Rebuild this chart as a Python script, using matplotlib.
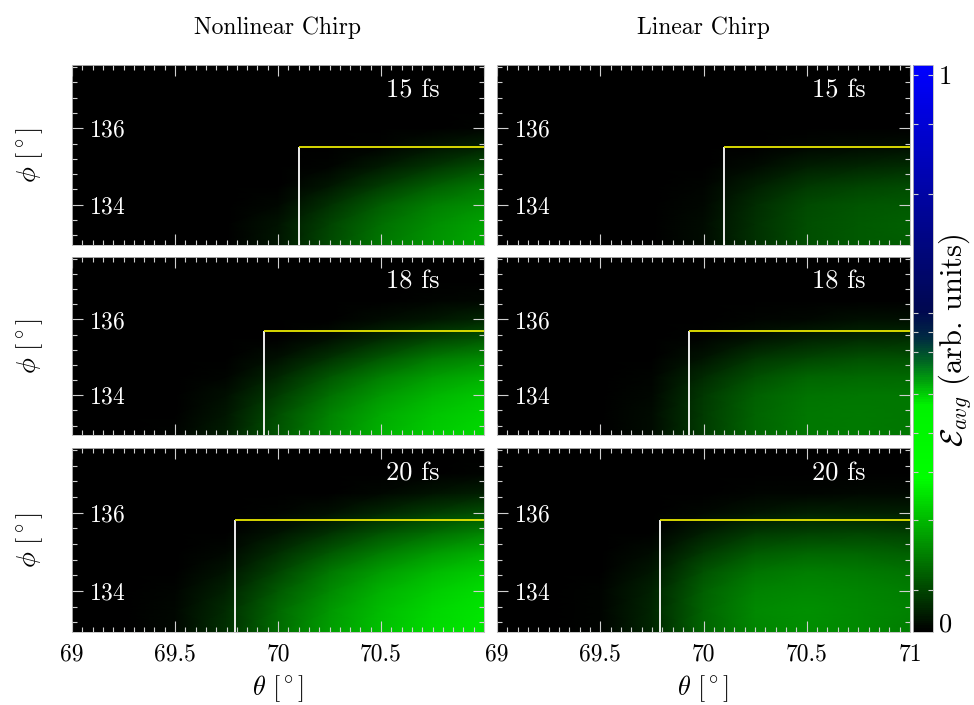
import numpy as np
import matplotlib
matplotlib.use("Agg")
import matplotlib.pyplot as plt
from matplotlib.colors import LinearSegmentedColormap, Normalize
from matplotlib.cm import ScalarMappable
from matplotlib.ticker import AutoMinorLocator, FixedLocator, MultipleLocator

plt.rcParams["font.family"] = "cmr10"
plt.rcParams["mathtext.fontset"] = "cm"
plt.rcParams["axes.formatter.use_mathtext"] = True

# grid of the scan (degrees)
theta = [69.0, 69.25, 69.5, 69.75, 70.0, 70.25, 70.5, 70.75, 71.0]
phi = [132.95, 133.5, 134.0, 134.5, 135.0, 135.5, 136.0, 136.5, 137.0, 137.65]

# average field, in units of 0.01 (rows: phi ascending, columns: theta ascending)
nl_15fs = [
    [0, 0, 0, 0.2, 2.7, 7.9, 12.7, 15.9, 18.0],
    [0, 0, 0, 0.1, 2.1, 7.2, 11.8, 15.1, 17.3],
    [0, 0, 0, 0, 1.1, 5.3, 9.8, 13.4, 15.6],
    [0, 0, 0, 0, 0.3, 2.7, 6.6, 10.1, 12.7],
    [0, 0, 0, 0, 0, 0.7, 3.0, 5.8, 8.4],
    [0, 0, 0, 0, 0, 0.1, 0.7, 2.1, 3.7],
    [0, 0, 0, 0, 0, 0, 0, 0.3, 0.7],
    [0, 0, 0, 0, 0, 0, 0, 0, 0],
    [0, 0, 0, 0, 0, 0, 0, 0, 0],
    [0, 0, 0, 0, 0, 0, 0, 0, 0],
]
nl_18fs = [
    [0, 0, 0.4, 3.2, 9.0, 14.8, 19.0, 21.7, 23.2],
    [0, 0, 0.3, 2.7, 8.3, 13.9, 18.2, 21.0, 22.5],
    [0, 0, 0.1, 1.6, 6.3, 11.8, 16.4, 19.4, 21.1],
    [0, 0, 0, 0.6, 4.1, 9.0, 13.5, 16.7, 18.5],
    [0, 0, 0, 0.1, 1.6, 5.3, 9.3, 12.5, 14.6],
    [0, 0, 0, 0, 0.3, 1.9, 4.5, 7.2, 9.3],
    [0, 0, 0, 0, 0, 0.3, 1.3, 2.7, 4.1],
    [0, 0, 0, 0, 0, 0, 0.1, 0.4, 0.8],
    [0, 0, 0, 0, 0, 0, 0, 0, 0],
    [0, 0, 0, 0, 0, 0, 0, 0, 0],
]
nl_20fs = [
    [0, 0, 1.1, 5.3, 11.7, 16.9, 20.7, 23.2, 24.9],
    [0, 0, 0.8, 4.8, 11.1, 16.4, 20.1, 22.8, 24.3],
    [0, 0, 0.6, 3.7, 9.6, 14.8, 18.8, 21.7, 23.5],
    [0, 0, 0.2, 2.3, 7.4, 12.5, 16.7, 19.9, 21.7],
    [0, 0, 0, 1.1, 4.8, 9.3, 13.2, 16.4, 18.5],
    [0, 0, 0, 0.3, 2.1, 5.3, 8.7, 11.7, 13.8],
    [0, 0, 0, 0, 0.6, 1.9, 4.1, 6.3, 8.3],
    [0, 0, 0, 0, 0, 0.3, 1.1, 2.1, 3.2],
    [0, 0, 0, 0, 0, 0, 0.1, 0.3, 0.6],
    [0, 0, 0, 0, 0, 0, 0, 0, 0],
]
lin_15fs = [
    [0, 0, 0, 0, 1.3, 5.3, 8.3, 9.6, 10.0],
    [0, 0, 0, 0, 1.3, 5.3, 8.4, 9.7, 10.3],
    [0, 0, 0, 0, 1.1, 4.8, 7.9, 9.1, 9.7],
    [0, 0, 0, 0, 0.6, 3.4, 6.2, 7.4, 8.2],
    [0, 0, 0, 0, 0.1, 1.5, 3.2, 4.2, 4.9],
    [0, 0, 0, 0, 0, 0.2, 0.8, 1.4, 1.7],
    [0, 0, 0, 0, 0, 0, 0.1, 0.2, 0.3],
    [0, 0, 0, 0, 0, 0, 0, 0, 0],
    [0, 0, 0, 0, 0, 0, 0, 0, 0],
    [0, 0, 0, 0, 0, 0, 0, 0, 0],
]
lin_18fs = [
    [0, 0, 0, 1.3, 6.3, 10.6, 12.5, 12.9, 12.5],
    [0, 0, 0, 1.3, 6.6, 10.9, 12.8, 13.2, 12.8],
    [0, 0, 0, 1.1, 5.9, 10.3, 12.2, 12.8, 12.5],
    [0, 0, 0, 0.6, 4.5, 8.4, 10.6, 11.2, 11.0],
    [0, 0, 0, 0.1, 2.3, 5.5, 7.4, 8.3, 8.3],
    [0, 0, 0, 0, 0.6, 2.3, 3.8, 4.6, 4.9],
    [0, 0, 0, 0, 0, 0.6, 1.1, 1.7, 1.9],
    [0, 0, 0, 0, 0, 0, 0.1, 0.2, 0.3],
    [0, 0, 0, 0, 0, 0, 0, 0, 0],
    [0, 0, 0, 0, 0, 0, 0, 0, 0],
]
lin_20fs = [
    [0, 0, 0.6, 4.1, 10.6, 14.3, 15.0, 14.6, 13.5],
    [0, 0, 0.6, 4.1, 10.8, 14.5, 15.3, 14.8, 13.8],
    [0, 0, 0.6, 3.6, 10.3, 13.9, 14.8, 14.4, 13.4],
    [0, 0, 0.3, 2.7, 8.7, 12.4, 13.4, 13.1, 12.2],
    [0, 0, 0.1, 1.3, 6.0, 9.6, 10.7, 10.6, 10.0],
    [0, 0, 0, 0.3, 3.2, 5.9, 7.0, 7.1, 6.8],
    [0, 0, 0, 0, 1.0, 2.3, 3.2, 3.4, 3.2],
    [0, 0, 0, 0, 0.1, 0.4, 0.7, 0.8, 0.8],
    [0, 0, 0, 0, 0, 0, 0, 0, 0],
    [0, 0, 0, 0, 0, 0, 0, 0, 0],
]

durations = ["15 fs", "18 fs", "20 fs"]
column_titles = ["Nonlinear Chirp", "Linear Chirp"]
panels = [[nl_15fs, lin_15fs], [nl_18fs, lin_18fs], [nl_20fs, lin_20fs]]

theta_ticks = [69, 69.5, 70, 70.5, 71]
theta_ticklabels = [["69", "69.5", "70", "70.5", ""], ["69", "69.5", "70", "70.5", "71"]]

# window corner of each scan (theta_c, phi_c)
corner_theta = [70.10, 69.93, 69.79]
corner_phi = [135.52, 135.70, 135.80]

cbar_minor = [0.074, 0.198, 0.282, 0.351, 0.420, 0.494, 0.529, 0.563, 0.772, 0.896, 0.982]

cmap = LinearSegmentedColormap.from_list(
    "green_blue",
    [
        (0.0, (0.0, 0.0, 0.0)),
        (0.27, (0.0, 1.0, 0.0)),
        (0.40, (0.0, 0.95, 0.0)),
        (0.44, (0.0, 0.65, 0.04)),
        (0.48, (0.0, 0.38, 0.14)),
        (0.52, (0.0, 0.16, 0.26)),
        (0.565, (0.0, 0.03, 0.31)),
        (1.0, (0.0, 0.0, 1.0)),
    ],
)
norm = Normalize(0, 1)

W_FIG, H_FIG = 974, 705
fig = plt.figure(figsize=(W_FIG / 100, H_FIG / 100), dpi=100)


def rect(x0, y0, x1, y1):
    return [x0 / W_FIG, 1 - y1 / H_FIG, (x1 - x0) / W_FIG, (y1 - y0) / H_FIG]


col_x = [(72, 484), (497, 910)]
row_y = [(65, 245), (257, 435), (448, 632)]
tick_col = "#cfcfcf"

TH, PH = np.meshgrid(theta, phi)

for r in range(3):
    for c in range(2):
        ax = fig.add_axes(rect(col_x[c][0], row_y[r][0], col_x[c][1], row_y[r][1]))
        z = np.array(panels[r][c]) / 100.0
        ax.pcolormesh(TH, PH, z, shading="gouraud", cmap=cmap, norm=norm, rasterized=True)
        ax.set_facecolor("black")
        ax.set_xlim(69, 71)
        ax.set_ylim(132.95, 137.65)

        # window outline
        ax.plot([corner_theta[r], corner_theta[r]], [132.95, corner_phi[r]],
                color="white", lw=1.3, solid_capstyle="butt", zorder=3)
        ax.plot([corner_theta[r], 71], [corner_phi[r], corner_phi[r]],
                color="#e8e800", lw=1.3, solid_capstyle="butt", zorder=3)

        ax.xaxis.set_major_locator(FixedLocator(theta_ticks))
        ax.xaxis.set_minor_locator(AutoMinorLocator(10))
        ax.yaxis.set_major_locator(MultipleLocator(2))
        ax.yaxis.set_minor_locator(AutoMinorLocator(5))
        ax.tick_params(which="both", direction="in", top=True, right=True,
                       color=tick_col, width=0.8)
        ax.tick_params(which="major", length=8)
        ax.tick_params(which="minor", length=3.6)
        ax.tick_params(axis="y", which="major", pad=-12, labelcolor="white", labelsize=17)
        for lab in ax.get_yticklabels():
            lab.set_horizontalalignment("left")
        ax.tick_params(axis="x", which="major", pad=8, labelsize=17)
        for sp in ax.spines.values():
            sp.set_color("#bdbdbd")
            sp.set_linewidth(0.6)

        ax.text(0.892, 0.86, durations[r], transform=ax.transAxes, color="white",
                ha="right", va="center", fontsize=19)

        if r < 2:
            ax.set_xticklabels([])
        else:
            ax.set_xticklabels(theta_ticklabels[c])
            ax.set_xlabel(r"$\theta\ [^\circ]$", fontsize=19, labelpad=6)
        if c == 0:
            ax.set_ylabel(r"$\phi\ [^\circ]$", fontsize=19, labelpad=16)
        if r == 0:
            ax.set_title(column_titles[c], fontsize=17, pad=22)

# colour scale
cax = fig.add_axes(rect(913, 65, 933, 632))
cb = fig.colorbar(ScalarMappable(norm=norm, cmap=cmap), cax=cax)
cb.outline.set_linewidth(0.6)
cb.outline.set_edgecolor("#bdbdbd")
cb.set_ticks([0, 1])
cb.set_ticklabels(["0", "1"])
cax.yaxis.set_minor_locator(FixedLocator(cbar_minor))
cax.tick_params(which="major", length=0, labelsize=19, pad=4)
cax.tick_params(which="minor", direction="in", left=True, right=True, length=3.6,
                color=tick_col, width=0.8)
tl = cax.get_yticklabels()
tl[0].set_verticalalignment("baseline")
tl[1].set_verticalalignment("top")
fig.text(955 / W_FIG, 1 - 340 / H_FIG, r"$\mathcal{E}_{avg}$ (arb. units)",
         rotation=90, ha="center", va="center", fontsize=22)

fig.savefig("out.png", dpi=100, facecolor="white")
